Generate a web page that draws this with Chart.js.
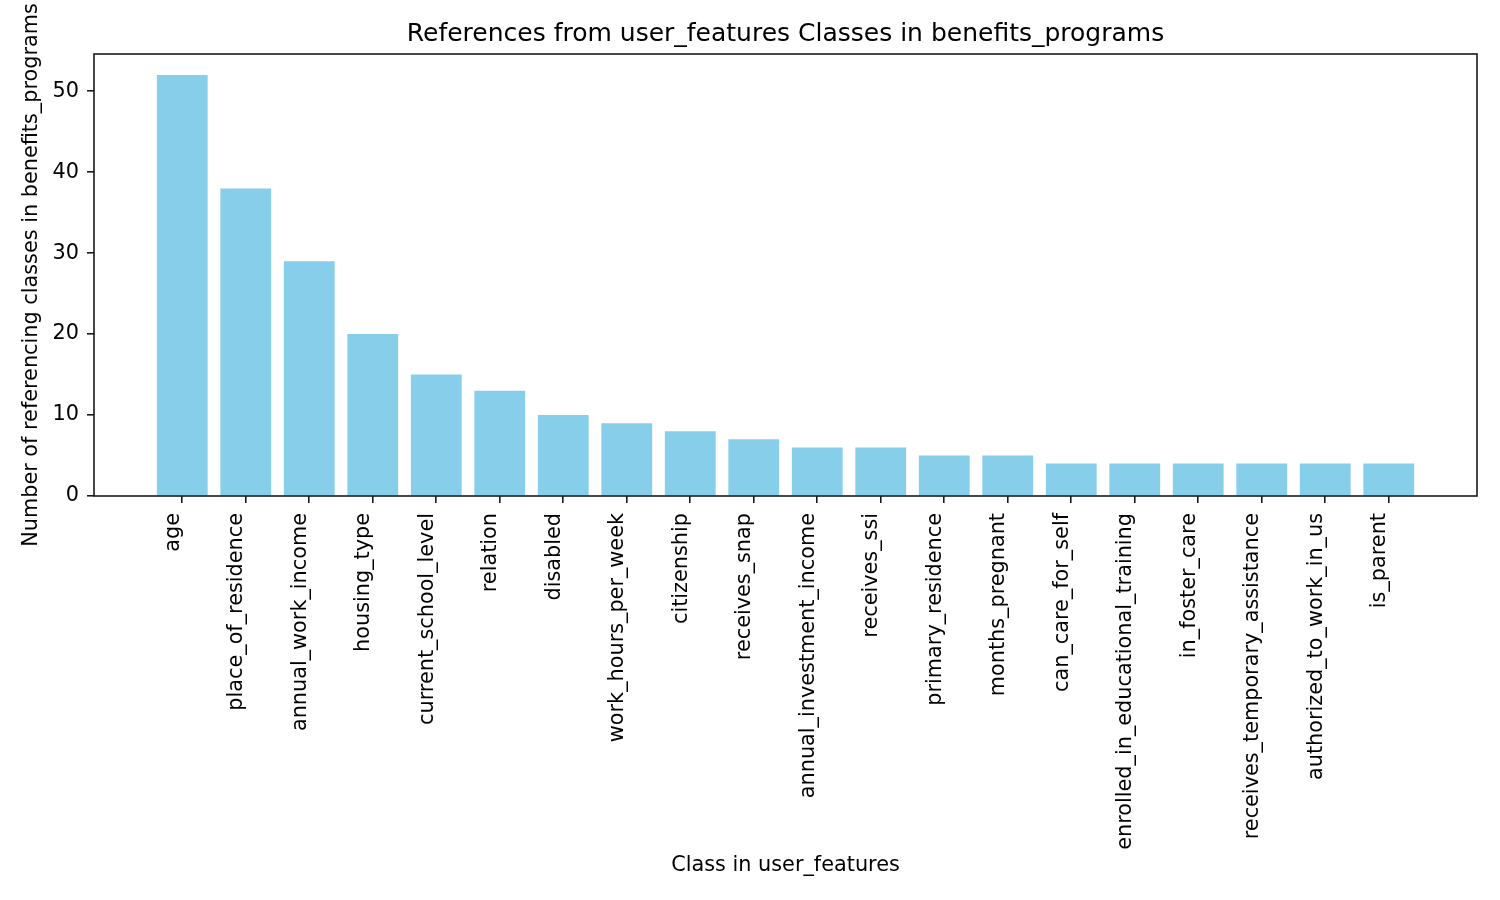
<!DOCTYPE html>
<html>
<head>
<meta charset="utf-8">
<script src="https://cdn.jsdelivr.net/npm/chart.js@4"></script>
<style>
  html, body { margin: 0; padding: 0; background: #fff; }
  #wrap { width: 1500px; height: 900px; }
</style>
</head>
<body>
<div id="wrap"><canvas id="refChart" width="1500" height="900"></canvas></div>
<script>
// kelas dan jumlah referensi
const classNames = [
  'age', 'place_of_residence', 'annual_work_income', 'housing_type', 'current_school_level',
  'relation', 'disabled', 'work_hours_per_week', 'citizenship', 'receives_snap',
  'annual_investment_income', 'receives_ssi', 'primary_residence', 'months_pregnant', 'can_care_for_self',
  'enrolled_in_educational_training', 'in_foster_care', 'receives_temporary_assistance', 'authorized_to_work_in_us', 'is_parent'
];
const refCounts = [52, 38, 29, 20, 15, 13, 10, 9, 8, 7, 6, 6, 5, 5, 4, 4, 4, 4, 4, 4];
const yTickValues = [0, 10, 20, 30, 40, 50];

const FONT = 'DejaVu Sans';
const AXIS_COLOR = '#1a1a1a';

// kotak di sekeliling area plot (gaya matplotlib)
const frameBox = {
  id: 'frameBox',
  afterDraw(chart) {
    const { ctx, chartArea: a } = chart;
    ctx.save();
    ctx.strokeStyle = AXIS_COLOR;
    ctx.lineWidth = 1.6;
    ctx.strokeRect(a.left, a.top, a.right - a.left, a.bottom - a.top);
    ctx.restore();
  }
};

new Chart(document.getElementById('refChart'), {
  type: 'bar',
  data: {
    datasets: [{
      data: refCounts.map((v, i) => ({ x: i, y: v })),
      backgroundColor: '#87CEEB',
      borderWidth: 0,
      categoryPercentage: 1,
      barPercentage: 0.8
    }]
  },
  options: {
    responsive: false,
    devicePixelRatio: 1,
    animation: false,
    layout: { padding: { left: 0, top: 0, right: 23, bottom: 0 } },
    plugins: {
      legend: { display: false },
      tooltip: { enabled: false },
      title: { display: false }
    },
    scales: {
      x: {
        type: 'linear',
        min: -1.39,
        max: 20.39,
        offset: false,
        afterBuildTicks(scale) {
          scale.ticks = classNames.map((_, i) => ({ value: i }));
        },
        afterFit(scale) { scale.height = 404; },
        border: { display: false },
        grid: { offset: false, drawOnChartArea: false, drawTicks: true, tickLength: 7, color: AXIS_COLOR, lineWidth: 1.6 },
        ticks: {
          autoSkip: false,
          minRotation: 90,
          maxRotation: 90,
          padding: 10,
          labelOffset: -9,
          color: '#000',
          font: { family: FONT, size: 20.8 },
          callback: (v) => classNames[v]
        },
        title: {
          display: true,
          text: 'Class in user_features',
          color: '#000',
          font: { family: FONT, size: 20.8 },
          padding: { top: 0, bottom: 21.5 }
        }
      },
      // sumbu atas hanya untuk judul, supaya judul di tengah area plot
      top: {
        type: 'linear',
        position: 'top',
        min: 0,
        max: 1,
        afterFit(scale) { scale.height = 54; },
        border: { display: false },
        grid: { display: false },
        ticks: { display: false },
        title: {
          display: true,
          text: 'References from user_features Classes in benefits_programs',
          color: '#000',
          font: { family: FONT, size: 25 },
          padding: { top: 19, bottom: 0 }
        }
      },
      y: {
        min: 0,
        max: 54.6,
        afterBuildTicks(scale) {
          scale.ticks = yTickValues.map(v => ({ value: v }));
        },
        afterFit(scale) { scale.width = 94; },
        border: { display: false },
        grid: { drawOnChartArea: false, drawTicks: true, tickLength: 7, color: AXIS_COLOR, lineWidth: 1.6 },
        ticks: {
          padding: 8,
          color: '#000',
          font: { family: FONT, size: 20.8 }
        },
        title: {
          display: true,
          text: 'Number of referencing classes in benefits_programs',
          color: '#000',
          font: { family: FONT, size: 20.8 },
          padding: { top: 19.5, bottom: 0 }
        }
      }
    }
  },
  plugins: [frameBox]
});
</script>
</body>
</html>
